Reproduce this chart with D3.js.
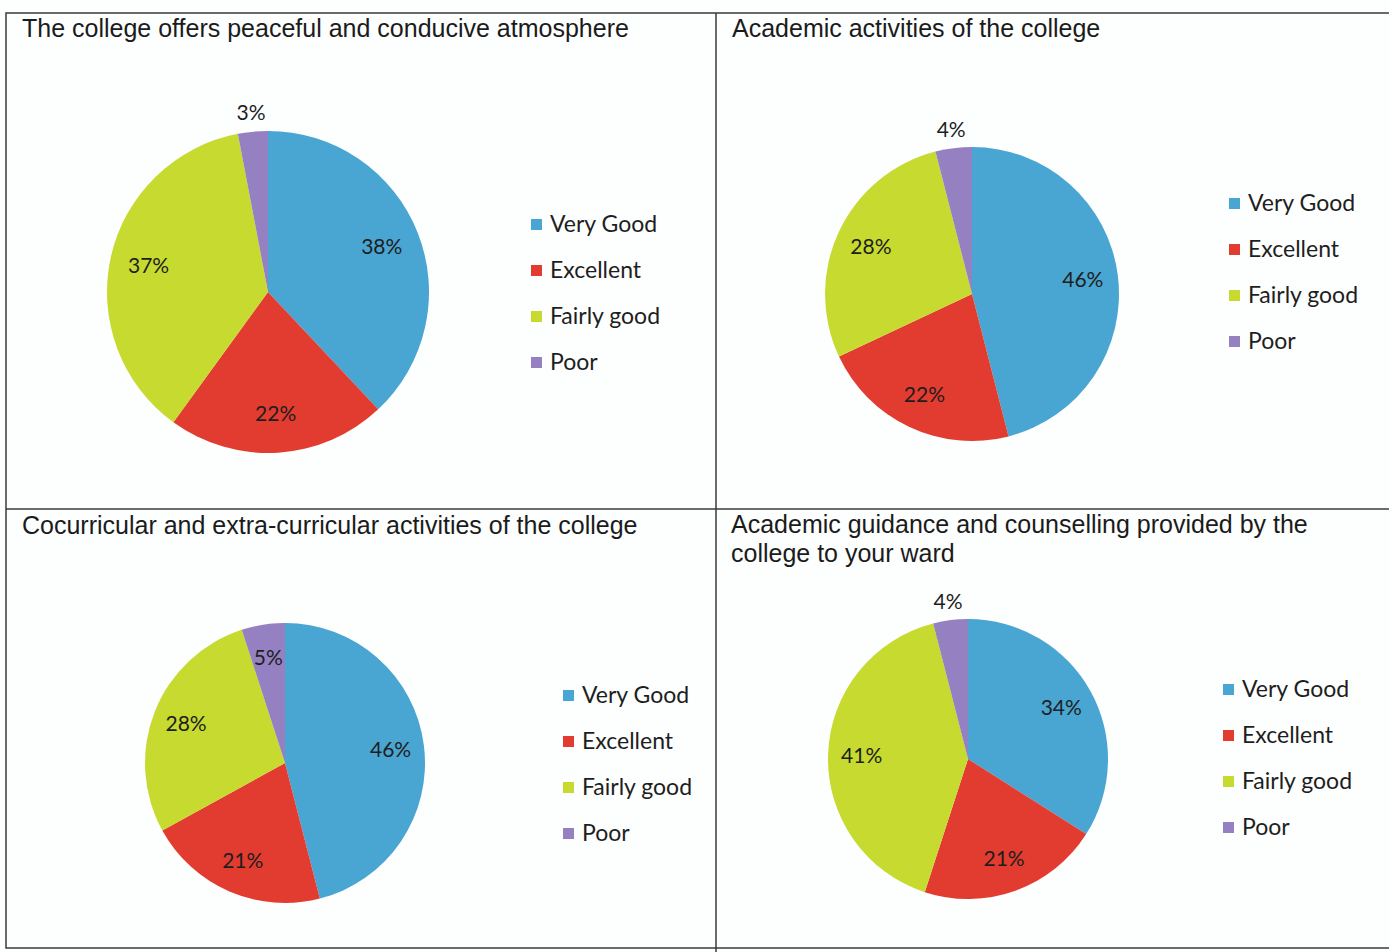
<!DOCTYPE html>
<html lang="en">
<head>
  <meta charset="utf-8">
  <title>College survey pies</title>
  <script src="https://cdn.jsdelivr.net/npm/d3@7"></script>
  <style>
    body { margin: 0; background: #fdfefe; }
  </style>
</head>
<body>
  <svg class="chart"></svg>
<script>
  // data
  var categories = ["Very Good", "Excellent", "Fairly good", "Poor"];
  var titles = [
    ["The college offers peaceful and conducive atmosphere"],
    ["Academic activities of the college"],
    ["Cocurricular and extra-curricular activities of the college"],
    ["Academic guidance and counselling provided by the", "college to your ward"]
  ];
  var atmosphere = [38, 22, 37, 3];
  var academic = [46, 22, 28, 4];
  var cocurricular = [46, 21, 28, 5];
  var guidance = [34, 21, 41, 4];
  var series = [atmosphere, academic, cocurricular, guidance];

  var colors = ["#49a5d1", "#e23c30", "#c6da2f", "#9580c2"];

  // layout of each panel
  var panels = [
    { tx: 22,  ty: 37,  cx: 268, cy: 292, r: 161, lx: 531,  ly: 224 },
    { tx: 732, ty: 37,  cx: 972, cy: 294, r: 147, lx: 1229, ly: 203 },
    { tx: 22,  ty: 534, cx: 285, cy: 763, r: 140, lx: 563,  ly: 695 },
    { tx: 731, ty: 533, cx: 968, cy: 759, r: 140, lx: 1223, ly: 689 }
  ];

  var W = 1389, H = 952;
  var svg = d3.select(".chart").attr("width", W).attr("height", H);

  var color = d3.scaleOrdinal().domain(categories).range(colors);
  var pie = d3.pie().sort(null).value(d => d.v);

  // frame
  var frame = svg.append("g").attr("fill", "none").attr("stroke", "#3a3a3a").attr("stroke-width", 1.5);
  frame.append("rect").attr("x", 6).attr("y", 13).attr("width", W + 4).attr("height", 935);
  frame.append("line").attr("x1", 716).attr("x2", 716).attr("y1", 13).attr("y2", H);
  frame.append("line").attr("x1", 6).attr("x2", W).attr("y1", 509).attr("y2", 509);

  panels.forEach(function(p, i) {
    var g = svg.append("g");

    // title
    var t = g.append("text")
      .attr("x", p.tx).attr("y", p.ty)
      .style("font", "25px 'Liberation Sans', Arial, sans-serif")
      .style("fill", "#1b1b1b");
    titles[i].forEach(function(line, k) {
      t.append("tspan").attr("x", p.tx).attr("dy", k ? 29 : 0).text(line);
    });

    var data = categories.map((c, j) => ({ c: c, v: series[i][j] }));
    var arcs = pie(data);
    var arc = d3.arc().innerRadius(0).outerRadius(p.r);
    var inLab = d3.arc().innerRadius(p.r * 0.76).outerRadius(p.r * 0.76);
    var outLab = d3.arc().innerRadius(p.r + 19).outerRadius(p.r + 19);

    var pg = g.append("g").attr("transform", "translate(" + p.cx + "," + p.cy + ")");
    pg.selectAll("path").data(arcs).enter().append("path")
      .attr("d", arc)
      .attr("fill", d => color(d.data.c));

    pg.selectAll("text").data(arcs).enter().append("text")
      .attr("transform", d => "translate(" + (d.data.v < 5 ? outLab : inLab).centroid(d) + ")")
      .attr("text-anchor", "middle")
      .attr("dy", "0.35em")
      .style("font", "21px Lato, 'Open Sans', sans-serif")
      .style("fill", "#1e1e1e")
      .text(d => d.data.v + "%");

    // legend
    var lg = g.append("g").attr("transform", "translate(" + p.lx + "," + p.ly + ")");
    var item = lg.selectAll("g").data(categories).enter().append("g")
      .attr("transform", (d, j) => "translate(0," + j * 46 + ")");
    item.append("rect")
      .attr("x", 0).attr("y", -5).attr("width", 11).attr("height", 11)
      .attr("fill", d => color(d));
    item.append("text")
      .attr("x", 19).attr("dy", "0.35em")
      .style("font", "23px Lato, 'Open Sans', sans-serif")
      .style("fill", "#1e1e1e")
      .text(d => d);
  });
</script>
</body>
</html>
